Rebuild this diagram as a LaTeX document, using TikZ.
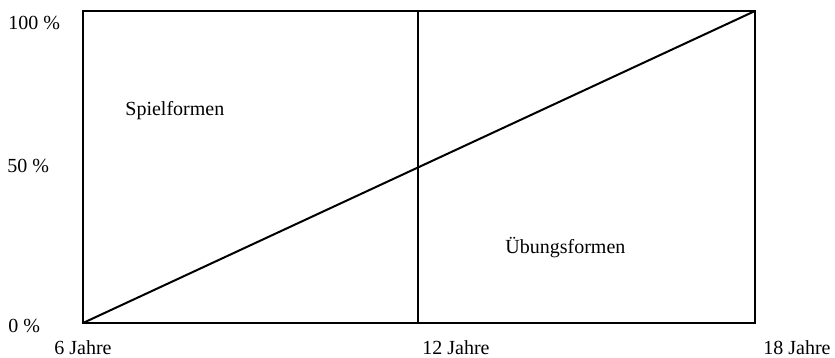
\documentclass[tikz,border=0pt]{standalone}
\usepackage{fontspec}
\setmainfont{Liberation Serif}
\usepackage{tikz}

\tikzset{
	lbl/.style={anchor=base west, inner sep=0pt, font=\fontsize{10}{12}\selectfont},
	frame/.style={line width=1pt}
}

\begin{document}
\begin{tikzpicture}[x=0.5pt, y=-0.5pt]
			\useasboundingbox (0,0) rectangle (835,358);

			\coordinate (sw) at (83,323);
			\coordinate (ne) at (755,11);
			\coordinate (mb) at (418,323);
			\coordinate (mt) at (418,11);

			\draw[frame] (sw) rectangle (ne);
			\draw[frame] (mb) -- (mt);
			\draw[frame] (sw) -- (ne);

			\node[lbl] (p100) at (8,30) {100 \%};
			\node[lbl] (p50) at (7,172) {50 \%};
			\node[lbl] (p0) at (8,332) {0 \%};

			\node[lbl] (j6) at (54,354) {6 Jahre};
			\node[lbl] (j12) at (422,354) {12 Jahre};
			\node[lbl] (j18) at (763,354) {18 Jahre};

			\node[lbl] (spiel) at (125,116) {Spielformen};
			\node[lbl] (uebung) at (505,253) {Übungsformen};
		\end{tikzpicture}
\end{document}
